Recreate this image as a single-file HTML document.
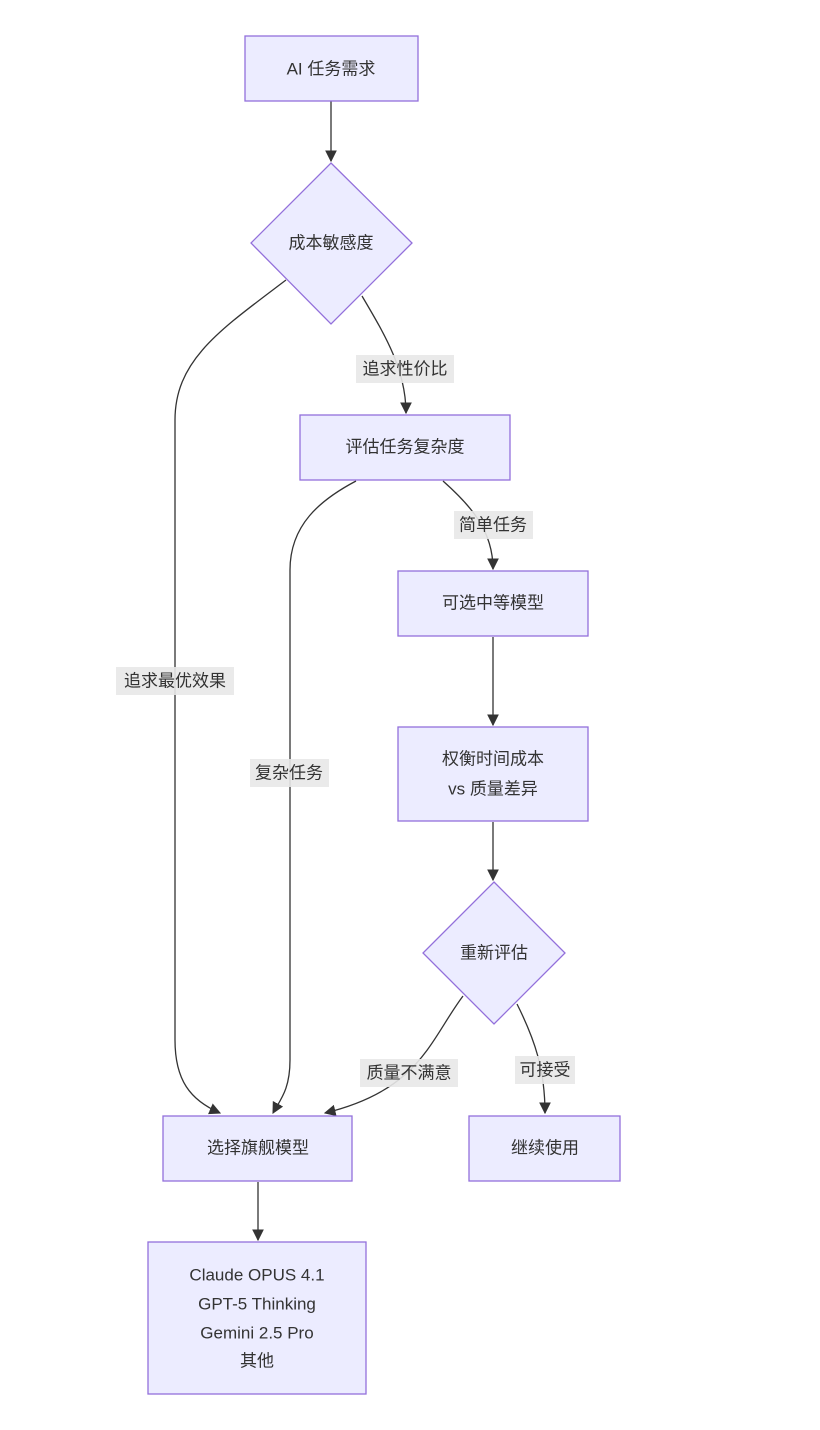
<!DOCTYPE html>
<html><head><meta charset="utf-8"><style>
html,body{margin:0;padding:0;background:#fff}
svg{display:block}
text{font-family:"Liberation Sans","Noto Sans CJK SC",sans-serif;font-size:17px;fill:#333;text-anchor:middle;dominant-baseline:central}
.n{fill:#ECECFF;stroke:#9370DB;stroke-width:1.3}
.e{fill:none;stroke:#333;stroke-width:1.3}
.l{fill:#e8e8e8;opacity:0.9}
</style></head><body>
<svg width="820" height="1430" viewBox="0 0 820 1430">
<defs><marker id="a" viewBox="0 0 10 10" refX="9" refY="5" markerWidth="9" markerHeight="9" orient="auto"><path d="M0,0L10,5L0,10z" fill="#333"/></marker></defs>
<path class="e" d="M331,101 L331,161" marker-end="url(#a)"/>
<path class="e" d="M286,280 C220,330 175,360 175,420 L175,1040 C175,1080 190,1100 220,1113" marker-end="url(#a)"/>
<path class="e" d="M362,296 C385,335 406,370 406,413" marker-end="url(#a)"/>
<path class="e" d="M356,481 C320,500 290,525 290,570 L290,1060 C290,1090 280,1100 273,1113" marker-end="url(#a)"/>
<path class="e" d="M443,481 C470,505 493,530 493,569" marker-end="url(#a)"/>
<path class="e" d="M493,637 L493,725" marker-end="url(#a)"/>
<path class="e" d="M493,822 L493,880" marker-end="url(#a)"/>
<path class="e" d="M463,996 C430,1040 420,1090 325,1113" marker-end="url(#a)"/>
<path class="e" d="M517,1004 C535,1040 545,1070 545,1113" marker-end="url(#a)"/>
<path class="e" d="M258,1182 L258,1240" marker-end="url(#a)"/>

<rect class="n" x="245" y="36" width="173" height="65"/><text x="331" y="69">AI 任务需求</text>
<polygon class="n" points="331,163 412,243 331,324 251,243"/><text x="331" y="243">成本敏感度</text>
<rect class="n" x="300" y="415" width="210" height="65"/><text x="405" y="447">评估任务复杂度</text>
<rect class="n" x="398" y="571" width="190" height="65"/><text x="493" y="603">可选中等模型</text>
<rect class="n" x="398" y="727" width="190" height="94"/><text x="493" y="759">权衡时间成本</text><text x="493" y="789">vs 质量差异</text>
<polygon class="n" points="494,882 565,953 494,1024 423,953"/><text x="494" y="953">重新评估</text>
<rect class="n" x="163" y="1116" width="189" height="65"/><text x="258" y="1148">选择旗舰模型</text>
<rect class="n" x="469" y="1116" width="151" height="65"/><text x="545" y="1148">继续使用</text>
<rect class="n" x="148" y="1242" width="218" height="152"/>
<text x="257" y="1275">Claude OPUS 4.1</text><text x="257" y="1304">GPT-5 Thinking</text><text x="257" y="1333">Gemini 2.5 Pro</text><text x="257" y="1361">其他</text>

<rect class="l" x="356" y="355" width="98" height="28"/><text x="405" y="369">追求性价比</text>
<rect class="l" x="116" y="667" width="118" height="28"/><text x="175" y="681">追求最优效果</text>
<rect class="l" x="250" y="759" width="79" height="28"/><text x="289" y="773">复杂任务</text>
<rect class="l" x="454" y="511" width="79" height="28"/><text x="493" y="525">简单任务</text>
<rect class="l" x="360" y="1059" width="98" height="28"/><text x="409" y="1073">质量不满意</text>
<rect class="l" x="515" y="1056" width="60" height="28"/><text x="545" y="1070">可接受</text>
</svg>
</body></html>
